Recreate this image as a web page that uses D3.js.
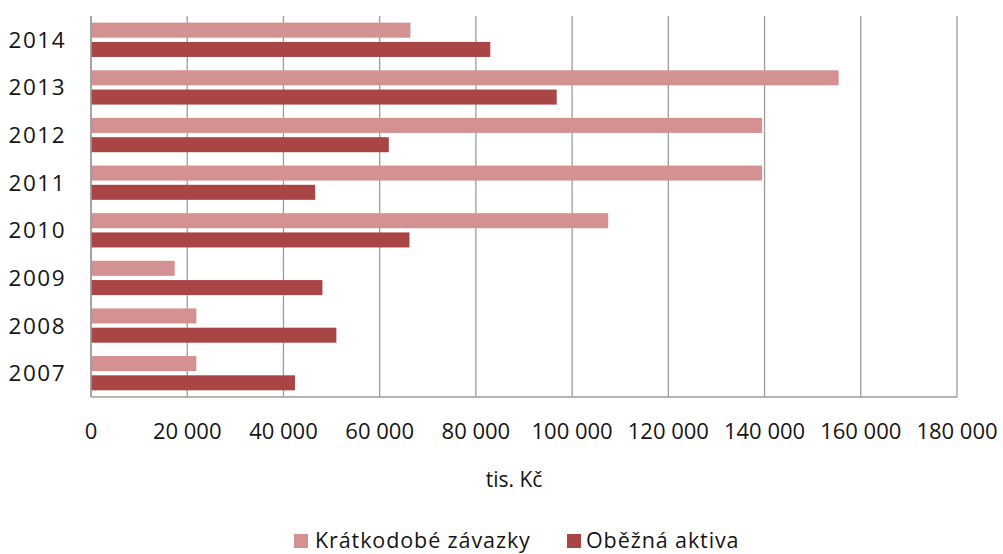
<!DOCTYPE html>
<html>
<head>
<meta charset="utf-8">
<script src="https://cdn.jsdelivr.net/npm/d3@7"></script>
<style>
  html, body { margin: 0; padding: 0; background: #fff; }
  svg { display: block; }
  text { font-family: "Open Sans", "Noto Sans", sans-serif; fill: #151515; }
</style>
</head>
<body>
<svg id="chart" width="1003" height="554"></svg>
<script>
// Years, listed top to bottom
const years = ["2014", "2013", "2012", "2011", "2010", "2009", "2008", "2007"];
// Short-term liabilities (tis. Kč)
const zavazky = [66400, 155400, 139500, 139500, 107500, 17400, 21900, 21900];
// Current assets (tis. Kč)
const aktiva = [83000, 96800, 61900, 46600, 66200, 48100, 51000, 42400];
const seriesNames = ["Krátkodobé závazky", "Oběžná aktiva"];
const seriesColors = ["#D39191", "#AA4545"];
const xTicks = [0, 20000, 40000, 60000, 80000, 100000, 120000, 140000, 160000, 180000];
const axisTitle = "tis. Kč";

const svg = d3.select("#chart");
const m = { left: 91, right: 957, top: 16, bottom: 397 };

const x = d3.scaleLinear().domain([0, 180000]).range([m.left, m.right]);
const y = d3.scaleBand().domain(years).range([m.top, m.bottom])
  .paddingInner(0.28).paddingOuter(0.14);
const ySub = d3.scaleBand().domain([0, 1]).range([0, y.bandwidth()]).paddingInner(0.22);

// thousands separated by a space
const fmt = v => d3.format(",")(v).replace(/,/g, " ");

// vertical gridlines
svg.append("g").selectAll("line").data(xTicks).join("line")
  .attr("x1", d => x(d)).attr("x2", d => x(d))
  .attr("y1", m.top).attr("y2", m.bottom)
  .attr("stroke", "#9c9c9c").attr("stroke-width", 1.3);

// bars
const rows = years.map((yr, i) => ({ yr, vals: [zavazky[i], aktiva[i]] }));
const g = svg.append("g").selectAll("g").data(rows).join("g")
  .attr("transform", d => `translate(0,${y(d.yr)})`);
g.selectAll("rect").data(d => d.vals.map((v, k) => ({ v, k }))).join("rect")
  .attr("x", x(0))
  .attr("y", d => ySub(d.k))
  .attr("width", d => x(d.v) - x(0))
  .attr("height", ySub.bandwidth())
  .attr("fill", d => seriesColors[d.k]);

// axis lines
svg.append("line").attr("x1", m.left).attr("x2", m.left)
  .attr("y1", m.top).attr("y2", m.bottom).attr("stroke", "#9c9c9c").attr("stroke-width", 1.5);
svg.append("line").attr("x1", m.left).attr("x2", m.right)
  .attr("y1", m.bottom).attr("y2", m.bottom).attr("stroke", "#9c9c9c").attr("stroke-width", 1.5);

// year labels
svg.append("g").selectAll("text").data(years).join("text")
  .attr("x", 66).attr("y", d => y(d) + y.bandwidth() / 2 + 2)
  .attr("text-anchor", "end").attr("dominant-baseline", "middle")
  .attr("font-size", 22.5).attr("letter-spacing", "1.5px")
  .text(d => d);

// x tick labels
svg.append("g").selectAll("text").data(xTicks).join("text")
  .attr("x", d => x(d)).attr("y", 439)
  .attr("text-anchor", "middle").attr("font-size", 22)
  .text(d => fmt(d));

// axis title
svg.append("text").attr("x", 514).attr("y", 487)
  .attr("text-anchor", "middle").attr("font-size", 21)
  .text(axisTitle);

// legend
const legendItems = [{ x: 294, tx: 315 }, { x: 567, tx: 586 }];
const lg = svg.append("g").selectAll("g").data(seriesNames).join("g");
lg.append("rect")
  .attr("x", (d, i) => legendItems[i].x).attr("y", 534)
  .attr("width", 14).attr("height", 14)
  .attr("fill", (d, i) => seriesColors[i]);
lg.append("text")
  .attr("x", (d, i) => legendItems[i].tx).attr("y", 548)
  .attr("font-size", 21.5).attr("letter-spacing", "0.9px")
  .text(d => d);
</script>
</body>
</html>
